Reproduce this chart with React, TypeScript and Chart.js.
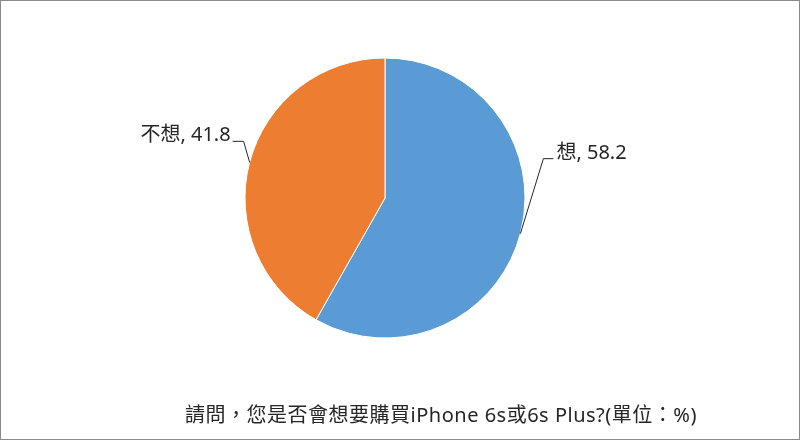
import { useEffect, useRef } from "react";
import { Chart, ArcElement, PieController } from "chart.js";

Chart.register(ArcElement, PieController);

const labels = ["想", "不想"];
const values = [58.2, 41.8];
const colors = ["#5B9BD5", "#ED7D31"];
const title = "請問，您是否會想要購買iPhone 6s或6s Plus?(單位：%)";

const FONT = '"Noto Sans", "Noto Sans CJK TC", sans-serif';

// leader line elbow offsets from the slice edge (dx, dy, horizontal tail)
const leaders = [
  { dx: 23, dy: -75, tail: 10 },
  { dx: -6, dy: -21, tail: -11 },
];

const labelPlugin = {
  id: "pieLabels",
  afterDatasetsDraw(chart: any) {
    const ctx = chart.ctx;
    const meta = chart.getDatasetMeta(0);
    ctx.save();
    ctx.font = `20px ${FONT}`;
    ctx.fillStyle = "#262626";
    ctx.strokeStyle = "#262626";
    ctx.lineWidth = 1;
    meta.data.forEach((arc: any, i: number) => {
      const { x, y, startAngle, endAngle, outerRadius } = arc.getProps(
        ["x", "y", "startAngle", "endAngle", "outerRadius"],
        true,
      );
      const mid = (startAngle + endAngle) / 2;
      const px = x + Math.cos(mid) * outerRadius;
      const py = y + Math.sin(mid) * outerRadius;
      const l = leaders[i];
      const ex = px + l.dx;
      const ey = py + l.dy;
      ctx.beginPath();
      ctx.moveTo(px, py);
      ctx.lineTo(ex, ey);
      ctx.lineTo(ex + l.tail, ey);
      ctx.stroke();
      const text = `${labels[i]}, ${values[i]}`;
      ctx.textBaseline = "alphabetic";
      if (l.tail > 0) {
        ctx.textAlign = "left";
        ctx.fillText(text, ex + l.tail + 3, ey);
      } else {
        ctx.textAlign = "right";
        ctx.fillText(text, ex + l.tail - 2, ey);
      }
    });
    ctx.font = `20px ${FONT}`;
    ctx.letterSpacing = "0.5px";
    ctx.textAlign = "center";
    ctx.textBaseline = "alphabetic";
    ctx.fillText(title, 440, 421);
    ctx.restore();
  },
};

export default function App() {
  const canvasRef = useRef<HTMLCanvasElement>(null);

  useEffect(() => {
    if (!canvasRef.current) return;
    document.body.style.margin = "0";
    const chart = new Chart(canvasRef.current, {
      type: "pie",
      data: {
        labels,
        datasets: [
          {
            data: values,
            backgroundColor: colors,
            borderColor: "#ffffff",
            borderWidth: 1,
          },
        ],
      },
      options: {
        animation: false,
        responsive: true,
        maintainAspectRatio: false,
        radius: 140,
        layout: { padding: { left: 0, right: 30, top: 0, bottom: 44 } },
        plugins: {
          legend: { display: false },
          tooltip: { enabled: false },
        },
      } as any,
      plugins: [labelPlugin],
    });
    return () => chart.destroy();
  }, []);

  return (
    <div
      style={{
        position: "fixed",
        left: 0,
        top: 0,
        width: 800,
        height: 440,
        boxSizing: "border-box",
        border: "1px solid #8a8a8a",
        background: "#fff",
      }}
    >
      <div style={{ position: "relative", width: 798, height: 438 }}>
        <canvas ref={canvasRef} />
      </div>
    </div>
  );
}
